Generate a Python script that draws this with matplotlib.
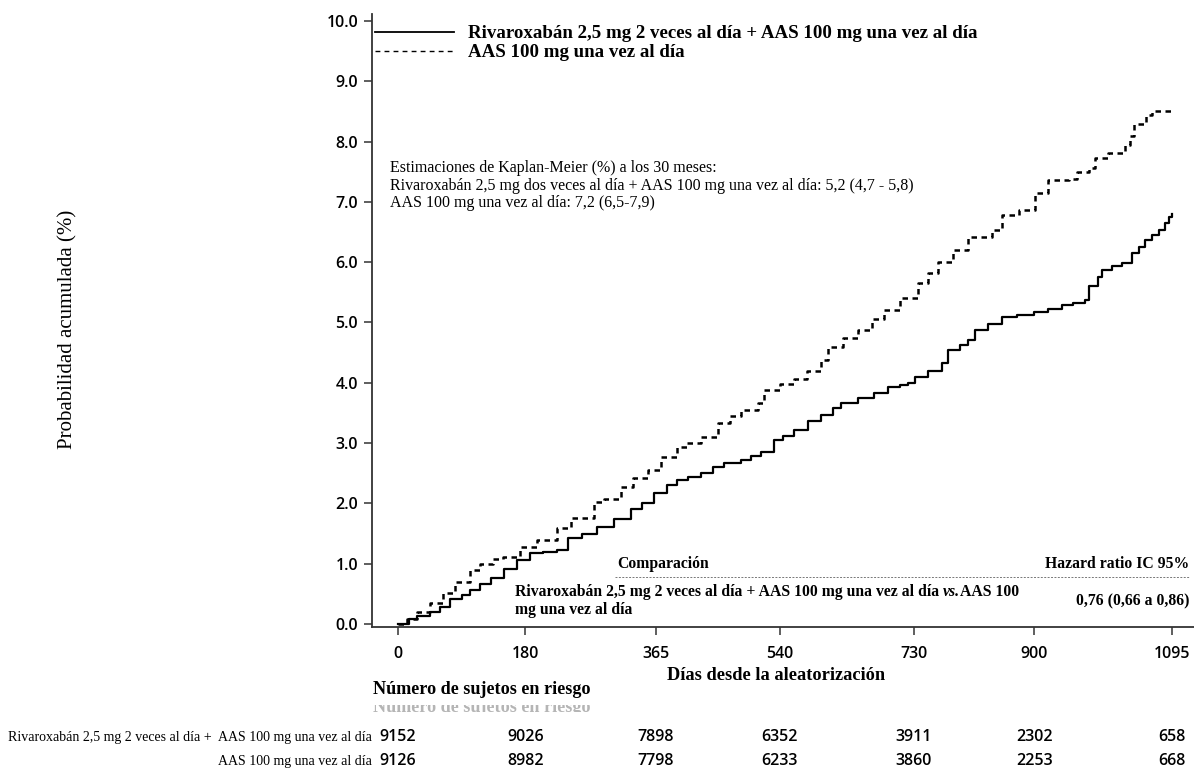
import numpy as np
import matplotlib.pyplot as plt
from matplotlib.lines import Line2D
from matplotlib.transforms import Bbox, blended_transform_factory

# data
days_riva = [0, 15, 27, 45, 60, 74, 90, 102, 116, 131, 150, 168, 187, 205, 225, 240,
             260, 282, 305, 329, 345, 362, 380, 395, 410, 428, 445, 461, 485, 500, 513,
             532, 545, 560, 580, 599, 615, 627, 650, 674, 693, 710, 722, 731, 750, 769,
             778, 795, 807, 816, 835, 854, 875, 900, 920, 939, 955, 972, 977, 990, 996,
             1010, 1024, 1038, 1048, 1057, 1067, 1077, 1085, 1091, 1095]
prob_riva = [0.0, 0.08, 0.13, 0.2, 0.28, 0.42, 0.48, 0.56, 0.66, 0.76, 0.92, 1.06, 1.17,
             1.2, 1.23, 1.42, 1.5, 1.61, 1.74, 1.9, 2.0, 2.17, 2.3, 2.39, 2.44, 2.5, 2.6,
             2.67, 2.72, 2.78, 2.85, 3.05, 3.12, 3.22, 3.36, 3.47, 3.58, 3.66, 3.75, 3.83,
             3.93, 3.97, 4.0, 4.1, 4.2, 4.33, 4.54, 4.62, 4.71, 4.88, 4.98, 5.09, 5.13,
             5.17, 5.22, 5.29, 5.33, 5.37, 5.6, 5.75, 5.87, 5.94, 5.98, 6.15, 6.25, 6.37,
             6.45, 6.53, 6.65, 6.75, 6.8]
days_aas = [0, 13, 27, 45, 64, 80, 102, 116, 135, 149, 173, 197, 225, 244, 277, 291, 315,
            333, 353, 372, 395, 409, 428, 452, 470, 485, 509, 518, 540, 560, 578, 599, 608,
            630, 651, 670, 688, 710, 736, 750, 764, 785, 807, 840, 854, 878, 901, 920, 949,
            960, 977, 986, 1005, 1029, 1036, 1041, 1058, 1067, 1095]
prob_aas = [0.0, 0.08, 0.2, 0.35, 0.51, 0.7, 0.9, 1.0, 1.07, 1.11, 1.28, 1.39, 1.6, 1.75,
            2.02, 2.08, 2.27, 2.42, 2.56, 2.77, 2.94, 3.0, 3.1, 3.33, 3.45, 3.55, 3.66, 3.88,
            3.98, 4.07, 4.2, 4.38, 4.6, 4.75, 4.88, 5.05, 5.2, 5.4, 5.65, 5.82, 6.0, 6.2,
            6.42, 6.53, 6.78, 6.87, 7.15, 7.36, 7.38, 7.5, 7.56, 7.73, 7.81, 7.94, 8.1, 8.3,
            8.44, 8.5, 8.5]

xticks = [0, 180, 365, 540, 730, 900, 1095]
yticks = [0, 1, 2, 3, 4, 5, 6, 7, 8, 9, 10]
risk_riva = [9152, 9026, 7898, 6352, 3911, 2302, 658]
risk_aas = [9126, 8982, 7798, 6233, 3860, 2253, 668]

lab_riva = 'Rivaroxabán 2,5 mg 2 veces al día + AAS 100 mg una vez al día'
lab_aas = 'AAS 100 mg una vez al día'
km_text = ['Estimaciones de Kaplan-Meier (%) a los 30 meses:',
           'Rivaroxabán 2,5 mg dos veces al día + AAS 100 mg una vez al día: 5,2 (4,7 - 5,8)',
           'AAS 100 mg una vez al día: 7,2 (6,5-7,9)']
hr_text = '0,76 (0,66 a 0,86)'

W, H = 1194, 776
serif = 'Liberation Serif'
sans = 'Open Sans'

fig = plt.figure(figsize=(W / 100, H / 100), dpi=100)
ax = fig.add_axes([372 / W, 1 - 627 / H, (W - 372) / W, (627 - 14) / H])


def fx(px):
    return px / W


def fy(py):
    return 1 - py / H


ax.step(days_riva, prob_riva, where='post', color='black', lw=1.6)
ax.step(days_aas, prob_aas, where='post', color='black', lw=1.8, linestyle=(0, (2.2, 1.8)))

ax.set_xlim(-36.8, 1126)
ax.set_ylim(-0.05, 10.116)
ax.set_xticks(xticks)
ax.set_xticklabels([str(t) for t in xticks])
ax.set_yticks(yticks)
ax.set_yticklabels(['%.1f' % t for t in yticks])
for s in ['top', 'right']:
    ax.spines[s].set_visible(False)
for s in ['left', 'bottom']:
    ax.spines[s].set_linewidth(1.3)
    ax.spines[s].set_color('#333333')
ax.tick_params(length=6, width=1.1, color='#333333', labelsize=11.5, pad=4)
ax.tick_params(axis='x', pad=8)
for lab in ax.get_xticklabels() + ax.get_yticklabels():
    lab.set_fontfamily(sans)
    lab.set_fontweight('semibold')

# legend
handles = [Line2D([], [], color='black', lw=1.3),
           Line2D([], [], color='black', lw=1.0, linestyle=(0, (3.5, 3)))]
ax.legend(handles, [lab_riva, lab_aas], loc='upper left',
          bbox_to_anchor=(fx(375), fy(25)), bbox_transform=fig.transFigure,
          frameon=False, borderpad=0, borderaxespad=0, handlelength=4.2,
          handletextpad=0.7, labelspacing=0.1,
          prop={'family': serif, 'weight': 'bold', 'size': 13.6})

# Kaplan-Meier estimates
for i, t in enumerate(km_text):
    fig.text(fx(390), fy(168 + 17.5 * i), t, family=serif, fontsize=11.5, va='center')

# comparison box
fs = 11.3
fig.text(fx(617), fy(564), 'Comparación', family=serif, weight='bold', fontsize=fs, va='center')
fig.text(fx(1189), fy(564), 'Hazard ratio IC 95%', family=serif, weight='bold', fontsize=fs,
         va='center', ha='right')
fig.add_artist(Line2D([fx(615), fx(1189)], [fy(577), fy(577)], color='#777777', lw=0.7,
                      linestyle=(0, (2, 1.5))))
t1 = fig.text(fx(515), fy(592), lab_riva + ' ', family=serif, weight='bold', fontsize=fs,
              va='center')
fig.text(fx(515), fy(610), 'mg una vez al día', family=serif, weight='bold', fontsize=fs,
         va='center')
fig.text(fx(1189), fy(601), hr_text, family=serif, weight='bold', fontsize=fs,
         va='center', ha='right')
fig.canvas.draw()
r = fig.canvas.get_renderer()
x_end = t1.get_window_extent(r).x1
t2 = fig.text(x_end / W, fy(592), 'vs.', family=serif, weight='bold', style='italic',
              fontsize=fs, va='center')
x_end = t2.get_window_extent(r).x1
fig.text(x_end / W, fy(592), 'AAS 100', family=serif, weight='bold', fontsize=fs, va='center')

# axis titles
fig.text(fx(68), fy(329), 'Probabilidad acumulada (%)', family=serif, fontsize=15,
         rotation=90, ha='center', va='center')
fig.text(fx(776), fy(676), 'Días desde la aleatorización', family=serif, weight='bold',
         fontsize=13.2, ha='center', va='center')
fig.text(fx(373), fy(689), 'Número de sujetos en riesgo', family=serif, weight='bold',
         fontsize=13.1, va='center')
ghost = fig.text(fx(373), fy(708), 'Número de sujetos en riesgo', family=serif, weight='bold',
                 fontsize=13.1, va='center', color='#b5b5b5')
ghost.set_clip_box(Bbox([[0, H - 712], [W, H - 705]]))
ghost.set_clip_on(True)

# numbers at risk
tr = blended_transform_factory(ax.transData, fig.transFigure)
for d, n1, n2 in zip(xticks, risk_riva, risk_aas):
    ax.text(d, fy(737), str(n1), transform=tr, ha='center', va='center', family=sans,
            weight='semibold', fontsize=11.5, clip_on=False)
    ax.text(d, fy(761), str(n2), transform=tr, ha='center', va='center', family=sans,
            weight='semibold', fontsize=11.5, clip_on=False)
fig.text(fx(372), fy(737), lab_riva.replace('+ ', '+  '), family=serif, fontsize=10,
         ha='right', va='center')
fig.text(fx(372), fy(761), lab_aas, family=serif, fontsize=10, ha='right', va='center')

fig.savefig('out.png', dpi=100)
